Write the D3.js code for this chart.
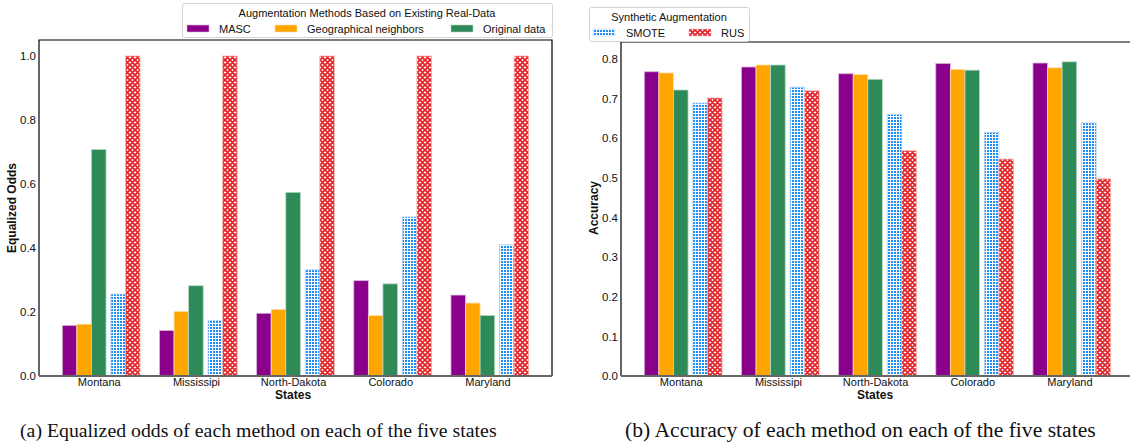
<!DOCTYPE html>
<html>
<head>
<meta charset="utf-8">
<script src="https://cdnjs.cloudflare.com/ajax/libs/d3/7.8.5/d3.min.js"></script>
<style>
  body { margin: 0; background: #fff; }
  svg { display: block; }
  text { font-family: "Liberation Sans", Arial, sans-serif; fill: #111; }
</style>
</head>
<body>
<div id="chart"></div>
<script>
// data
var states = ["Montana", "Mississipi", "North-Dakota", "Colorado", "Maryland"];
var methods = ["MASC", "Geographical neighbors", "Original data", "SMOTE", "RUS"];

// equalized odds (left)
var eqMASC = [0.158, 0.142, 0.196, 0.298, 0.253];
var eqGeo = [0.162, 0.202, 0.208, 0.189, 0.228];
var eqOrig = [0.708, 0.282, 0.574, 0.288, 0.189];
var eqSMOTE = [0.256, 0.174, 0.332, 0.497, 0.41];
var eqRUS = [1.0, 1.0, 1.0, 1.0, 1.0];

// accuracy (right)
var accMASC = [0.767, 0.779, 0.762, 0.788, 0.789];
var accGeo = [0.764, 0.784, 0.760, 0.773, 0.777];
var accOrig = [0.721, 0.784, 0.748, 0.771, 0.792];
var accSMOTE = [0.688, 0.728, 0.659, 0.614, 0.638];
var accRUS = [0.701, 0.719, 0.568, 0.547, 0.497];

var eqTicks = [0.0, 0.2, 0.4, 0.6, 0.8, 1.0];
var accTicks = [0.0, 0.1, 0.2, 0.3, 0.4, 0.5, 0.6, 0.7, 0.8];

var colors = ["#8b008b", "#ffa500", "#2e8b57", "url(#smote)", "url(#rus)"];
var edges = ["#d9b3d9", "#ffe0a8", "#b5d8c2", "#a9d2fb", "#f5b5b5"];
var offsets = [-0.3, -0.15, 0, 0.2, 0.35];
var barW = 0.15;

var svg = d3.select("#chart").append("svg")
	.attr("width", 1130)
	.attr("height", 445);

var defs = svg.append("defs");

// SMOTE hatch: dense blue grid
var p1 = defs.append("pattern")
	.attr("id", "smote")
	.attr("patternUnits", "userSpaceOnUse")
	.attr("width", 3)
	.attr("height", 3);
p1.append("rect").attr("width", 3).attr("height", 3).attr("fill", "#fff");
p1.append("rect").attr("width", 2).attr("height", 2).attr("fill", "#1e8cf5");

// RUS hatch: red crosses
var p2 = defs.append("pattern")
	.attr("id", "rus")
	.attr("patternUnits", "userSpaceOnUse")
	.attr("width", 5)
	.attr("height", 5);
p2.append("rect").attr("width", 5).attr("height", 5).attr("fill", "#fff");
p2.append("path")
	.attr("d", "M0,0L5,5M5,0L0,5M-1,4L1,6M4,-1L6,1M-1,1L1,-1M4,6L6,4")
	.attr("stroke", "#e3262b")
	.attr("stroke-width", 1.9);

function drawPanel(cfg) {
	var g = svg.append("g");
	var x = d3.scaleLinear().domain([-0.615, 4.665]).range([cfg.left, cfg.left + 513]);
	var y = d3.scaleLinear().domain([0, cfg.ymax]).range([376, cfg.top]);
	var px = x(barW) - x(0);

	cfg.series.forEach(function (vals, si) {
		g.selectAll(".bar" + si)
			.data(vals)
			.enter().append("rect")
			.attr("x", function (d, i) { return x(i + offsets[si]) - px / 2; })
			.attr("y", function (d) { return y(d); })
			.attr("width", px)
			.attr("height", function (d) { return y(0) - y(d); })
			.attr("fill", colors[si])
			.attr("stroke", edges[si])
			.attr("stroke-width", 0.8);
	});

	// spines
	g.append("path")
		.attr("d", "M" + x.range()[0] + "," + 376 + "V" + cfg.top + "H" + (cfg.left + 513) + "V376")
		.attr("fill", "none")
		.attr("stroke", "#000")
		.attr("stroke-width", 1.2);
	g.append("line")
		.attr("x1", cfg.left).attr("x2", cfg.left + 513)
		.attr("y1", 376).attr("y2", 376)
		.attr("stroke", "#666")
		.attr("stroke-width", 2);

	// y axis
	var ya = d3.axisLeft(y).tickValues(cfg.ticks).tickSize(0).tickPadding(3)
		.tickFormat(d3.format(".1f"));
	var yg = g.append("g").attr("transform", "translate(" + cfg.left + ",0)").call(ya);
	yg.select(".domain").remove();
	yg.selectAll("text").style("font-size", "11.5px").attr("fill", "#111")
		.style("font-family", "Liberation Sans, Arial, sans-serif");

	// x axis
	var xa = d3.axisBottom(x).tickValues(d3.range(states.length)).tickSize(0).tickPadding(2)
		.tickFormat(function (i) { return states[i]; });
	var xg = g.append("g").attr("transform", "translate(0,376)").call(xa);
	xg.select(".domain").remove();
	xg.selectAll("text").style("font-size", "11px").attr("fill", "#111")
		.style("font-family", "Liberation Sans, Arial, sans-serif");

	g.append("text")
		.attr("x", x(2)).attr("y", 399)
		.attr("text-anchor", "middle")
		.style("font-size", "12px").style("font-weight", "bold")
		.text("States");

	g.append("text")
		.attr("transform", "translate(" + cfg.ylabX + "," + 208 + ") rotate(-90)")
		.attr("text-anchor", "middle")
		.style("font-size", "12px").style("font-weight", "bold")
		.text(cfg.ylabel);

	// caption
	var cap = g.append("text")
		.attr("x", cfg.capX).attr("y", 437)
		.style("font-family", "Liberation Serif, Times New Roman, serif")
		.style("font-size", "18px")
		.text(cfg.caption);
	var len = cap.node().getComputedTextLength();
	cap.style("font-size", (18 * cfg.capW / len) + "px");
}

drawPanel({
	left: 39, top: 40, ymax: 1.05, ticks: eqTicks,
	series: [eqMASC, eqGeo, eqOrig, eqSMOTE, eqRUS],
	ylabel: "Equalized Odds", ylabX: 16,
	caption: "(a) Equalized odds of each method on each of the five states", capX: 20, capW: 477
});

drawPanel({
	left: 621, top: 42, ymax: 0.842, ticks: accTicks,
	series: [accMASC, accGeo, accOrig, accSMOTE, accRUS],
	ylabel: "Accuracy", ylabX: 598,
	caption: "(b) Accuracy of each method on each of the five states", capX: 625, capW: 471
});

// legends
function drawLegend(lx, ly, lw, lh, title, titleX, items) {
	var lg = svg.append("g");
	lg.append("rect")
		.attr("x", lx + 0.5).attr("y", ly + 0.5)
		.attr("width", lw).attr("height", lh)
		.attr("rx", 2)
		.attr("fill", "#fff")
		.attr("stroke", "#d4d4d4");
	lg.append("text")
		.attr("x", titleX).attr("y", ly + 14)
		.attr("text-anchor", "middle")
		.style("font-size", "11px")
		.text(title);
	items.forEach(function (it) {
		lg.append("rect")
			.attr("x", it.px).attr("y", ly + 22)
			.attr("width", 22).attr("height", 7)
			.attr("fill", colors[it.k])
			.attr("stroke", edges[it.k])
			.attr("stroke-width", 0.6);
		lg.append("text")
			.attr("x", it.tx).attr("y", ly + 30)
			.style("font-size", "11px")
			.text(methods[it.k]);
	});
}

drawLegend(182, 3, 370, 34, "Augmentation Methods Based on Existing Real-Data", 367, [
	{k: 0, px: 187, tx: 219},
	{k: 1, px: 275, tx: 307},
	{k: 2, px: 451, tx: 483}
]);

drawLegend(589, 7, 160, 34, "Synthetic Augmentation", 669, [
	{k: 3, px: 593, tx: 626},
	{k: 4, px: 689, tx: 721}
]);
</script>
</body>
</html>
